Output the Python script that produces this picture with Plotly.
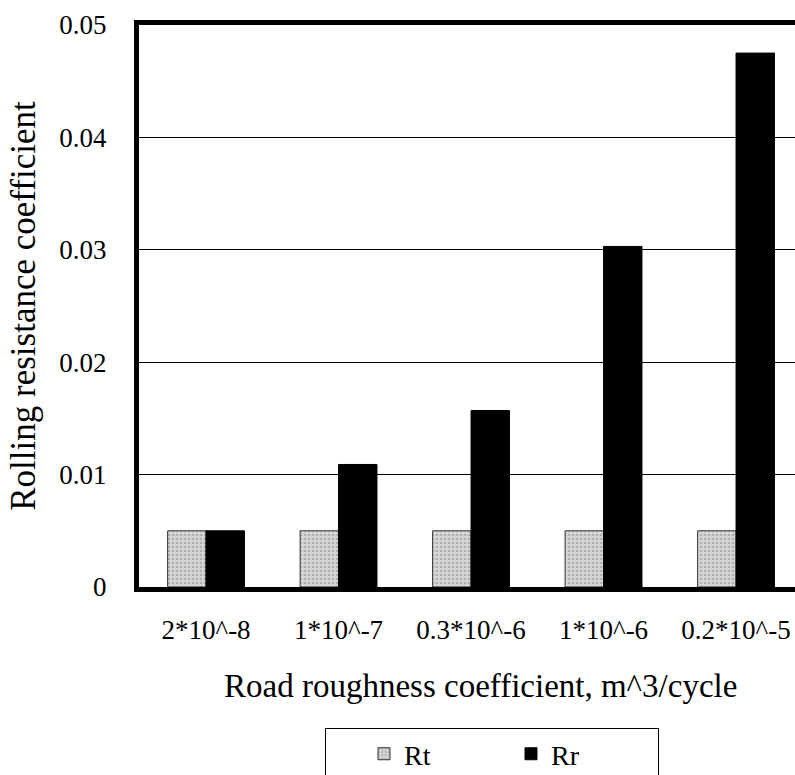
import plotly.graph_objects as go

categories = ["2*10^-8", "1*10^-7", "0.3*10^-6", "1*10^-6", "0.2*10^-5"]
rt_values = [0.005, 0.005, 0.005, 0.005, 0.005]
rr_values = [0.005, 0.0109, 0.0157, 0.0303, 0.0475]
y_ticks = [0, 0.01, 0.02, 0.03, 0.04, 0.05]
y_tick_labels = ["0", "0.01", "0.02", "0.03", "0.04", "0.05"]
x_title = "Road roughness coefficient, m^3/cycle"
y_title = "Rolling resistance coefficient"

FONT = "Liberation Serif, Times New Roman, serif"

fig = go.Figure()
fig.add_trace(go.Bar(
    x=list(range(len(categories))), y=rt_values, name="Rt",
    marker=dict(color="#cfcfcf", line=dict(color="#333333", width=1),
                pattern=dict(shape=".", fgcolor="#8a8a8a", bgcolor="#d6d6d6", size=4, solidity=0.35)),
))
fig.add_trace(go.Bar(
    x=list(range(len(categories))), y=rr_values, name="Rr",
    marker=dict(color="#000000", line=dict(color="#000000", width=1)),
))

fig.update_layout(
    width=795, height=775,
    margin=dict(l=139, r=0, t=25, b=188),
    paper_bgcolor="white", plot_bgcolor="white",
    barmode="group", bargap=0.42, bargroupgap=0,
    font=dict(family=FONT, color="black", size=27),
    showlegend=True,
    legend=dict(orientation="h", xref="container", yref="container",
                x=0.4088, xanchor="left", y=0.0606, yanchor="top",
                bordercolor="black", borderwidth=1, font=dict(size=28, family=FONT),
                entrywidth=102, itemwidth=30, bgcolor="white",
                title=dict(text="&nbsp;&nbsp;&nbsp;&nbsp;", side="left", font=dict(size=28))),
    annotations=[dict(text=x_title, xref="paper", yref="paper", x=0.5213, y=-0.1762,
                      xanchor="center", yanchor="middle", showarrow=False,
                      font=dict(size=33, family=FONT, color="black"))],
)
fig.update_xaxes(
    range=[-0.506, 4.445], tickmode="array", tickvals=list(range(len(categories))),
    ticktext=categories, showline=True, linecolor="black", linewidth=5, mirror=True,
    showgrid=False, ticks="", ticklabelstandoff=15, tickfont=dict(size=27),
    zeroline=False, automargin=False,
)
fig.update_yaxes(
    range=[0, 0.05], tickmode="array", tickvals=y_ticks, ticktext=y_tick_labels,
    showline=True, linecolor="black", linewidth=5, mirror=False,
    showgrid=True, gridcolor="black", gridwidth=1, ticks="", ticklabelstandoff=22,
    tickfont=dict(size=27),
    title=dict(text=y_title, font=dict(size=35), standoff=15),
    zeroline=False, automargin=False,
)

fig.write_html("out.html", config={"displayModeBar": False},
               post_script="document.body.style.margin='0';")
